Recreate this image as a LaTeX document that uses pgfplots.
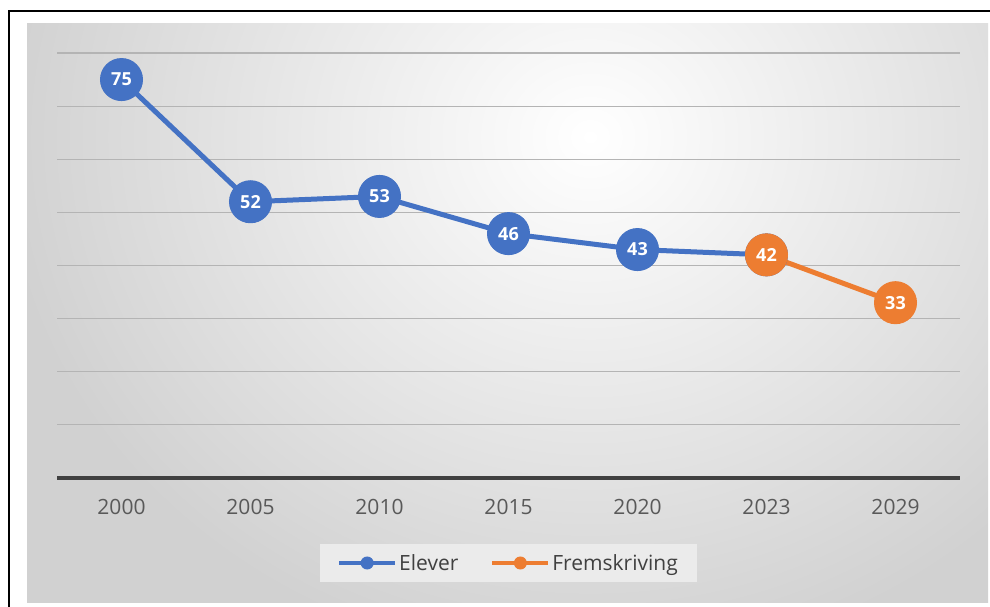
\documentclass[border=0pt]{standalone}
\usepackage{fontspec}
\setmainfont{Open Sans}
\usepackage{pgfplots}
\pgfplotsset{compat=1.18}

\definecolor{blueS}{HTML}{4472C4}
\definecolor{orangeS}{HTML}{ED7D31}
\definecolor{tickgray}{HTML}{595959}
\definecolor{legtext}{HTML}{404040}
\definecolor{gridc}{HTML}{B4B4B4}
\definecolor{basec}{HTML}{404040}

\begin{document}
\begin{tikzpicture}[x=1pt,y=1pt]
  \useasboundingbox (0,0) rectangle (990,607);
  \clip (0,0) rectangle (990,607);
  % frame and background panel
  \fill[white] (0,0) rectangle (990,607);
  \draw[line width=2pt, black] (8.5,-10) -- (8.5,596) -- (1000,596);
  \begin{scope}
    \clip (27,4) rectangle (988,583);
    \fill[gray!36] (27,4) rectangle (988,583);
    \shade[inner color=white, outer color=gray!36] (0,-60) rectangle (1180,1000);
  \end{scope}

  \begin{axis}[
    at={(57pt,129pt)}, anchor=south west,
    width=903pt, height=425pt, scale only axis,
    clip=false,
    /pgf/number format/assume math mode=true,
    xmin=-0.5, xmax=6.5, ymin=0, ymax=80,
    xtick={0,...,6},
    xticklabels={2000,2005,2010,2015,2020,2023,2029},
    ytick={10,20,...,80},
    yticklabels={},
    extra y ticks={0}, extra y tick labels={},
    extra y tick style={grid style={line width=3.5pt, color=basec}},
    ymajorgrids,
    grid style={line width=1.2pt, color=gridc},
    major tick length=0pt,
    axis line style={draw=none},
    xticklabel style={font=\fontsize{21}{24}\selectfont, text=tickgray, yshift=-18pt},
    legend style={at={(0.5,-0.2)}, anchor=center, legend columns=2,
      fill=gray!16, draw=none, inner xsep=17pt, inner ysep=8pt,
      font=\fontsize{21}{24}\selectfont, text=legtext,
      nodes={inner sep=2pt},
      /tikz/every even column/.append style={column sep=30pt}},
    legend image code/.code={%
      \draw[mark repeat=2, mark phase=2, #1, line width=4pt, mark size=6pt]
        plot coordinates {(0pt,0pt) (28pt,0pt) (56pt,0pt)};},
    nodes near coords,
    every node near coord/.append style={anchor=center, text=white,
      font=\bfseries\fontsize{18}{20}\selectfont},
  ]
  \addplot[color=blueS, line width=5pt, mark=*, mark size=21pt,
    mark options={fill=blueS, draw=blueS, line width=1pt}]
    coordinates {(0,75) (1,52) (2,53) (3,46) (4,43) (5,42)};
  \addlegendentry{Elever}
  \addplot[color=orangeS, line width=5pt, mark=*, mark size=21pt,
    mark options={fill=orangeS, draw=orangeS, line width=1pt}]
    coordinates {(5,42) (6,33)};
  \addlegendentry{Fremskriving}
  \end{axis}
\end{tikzpicture}
\end{document}
